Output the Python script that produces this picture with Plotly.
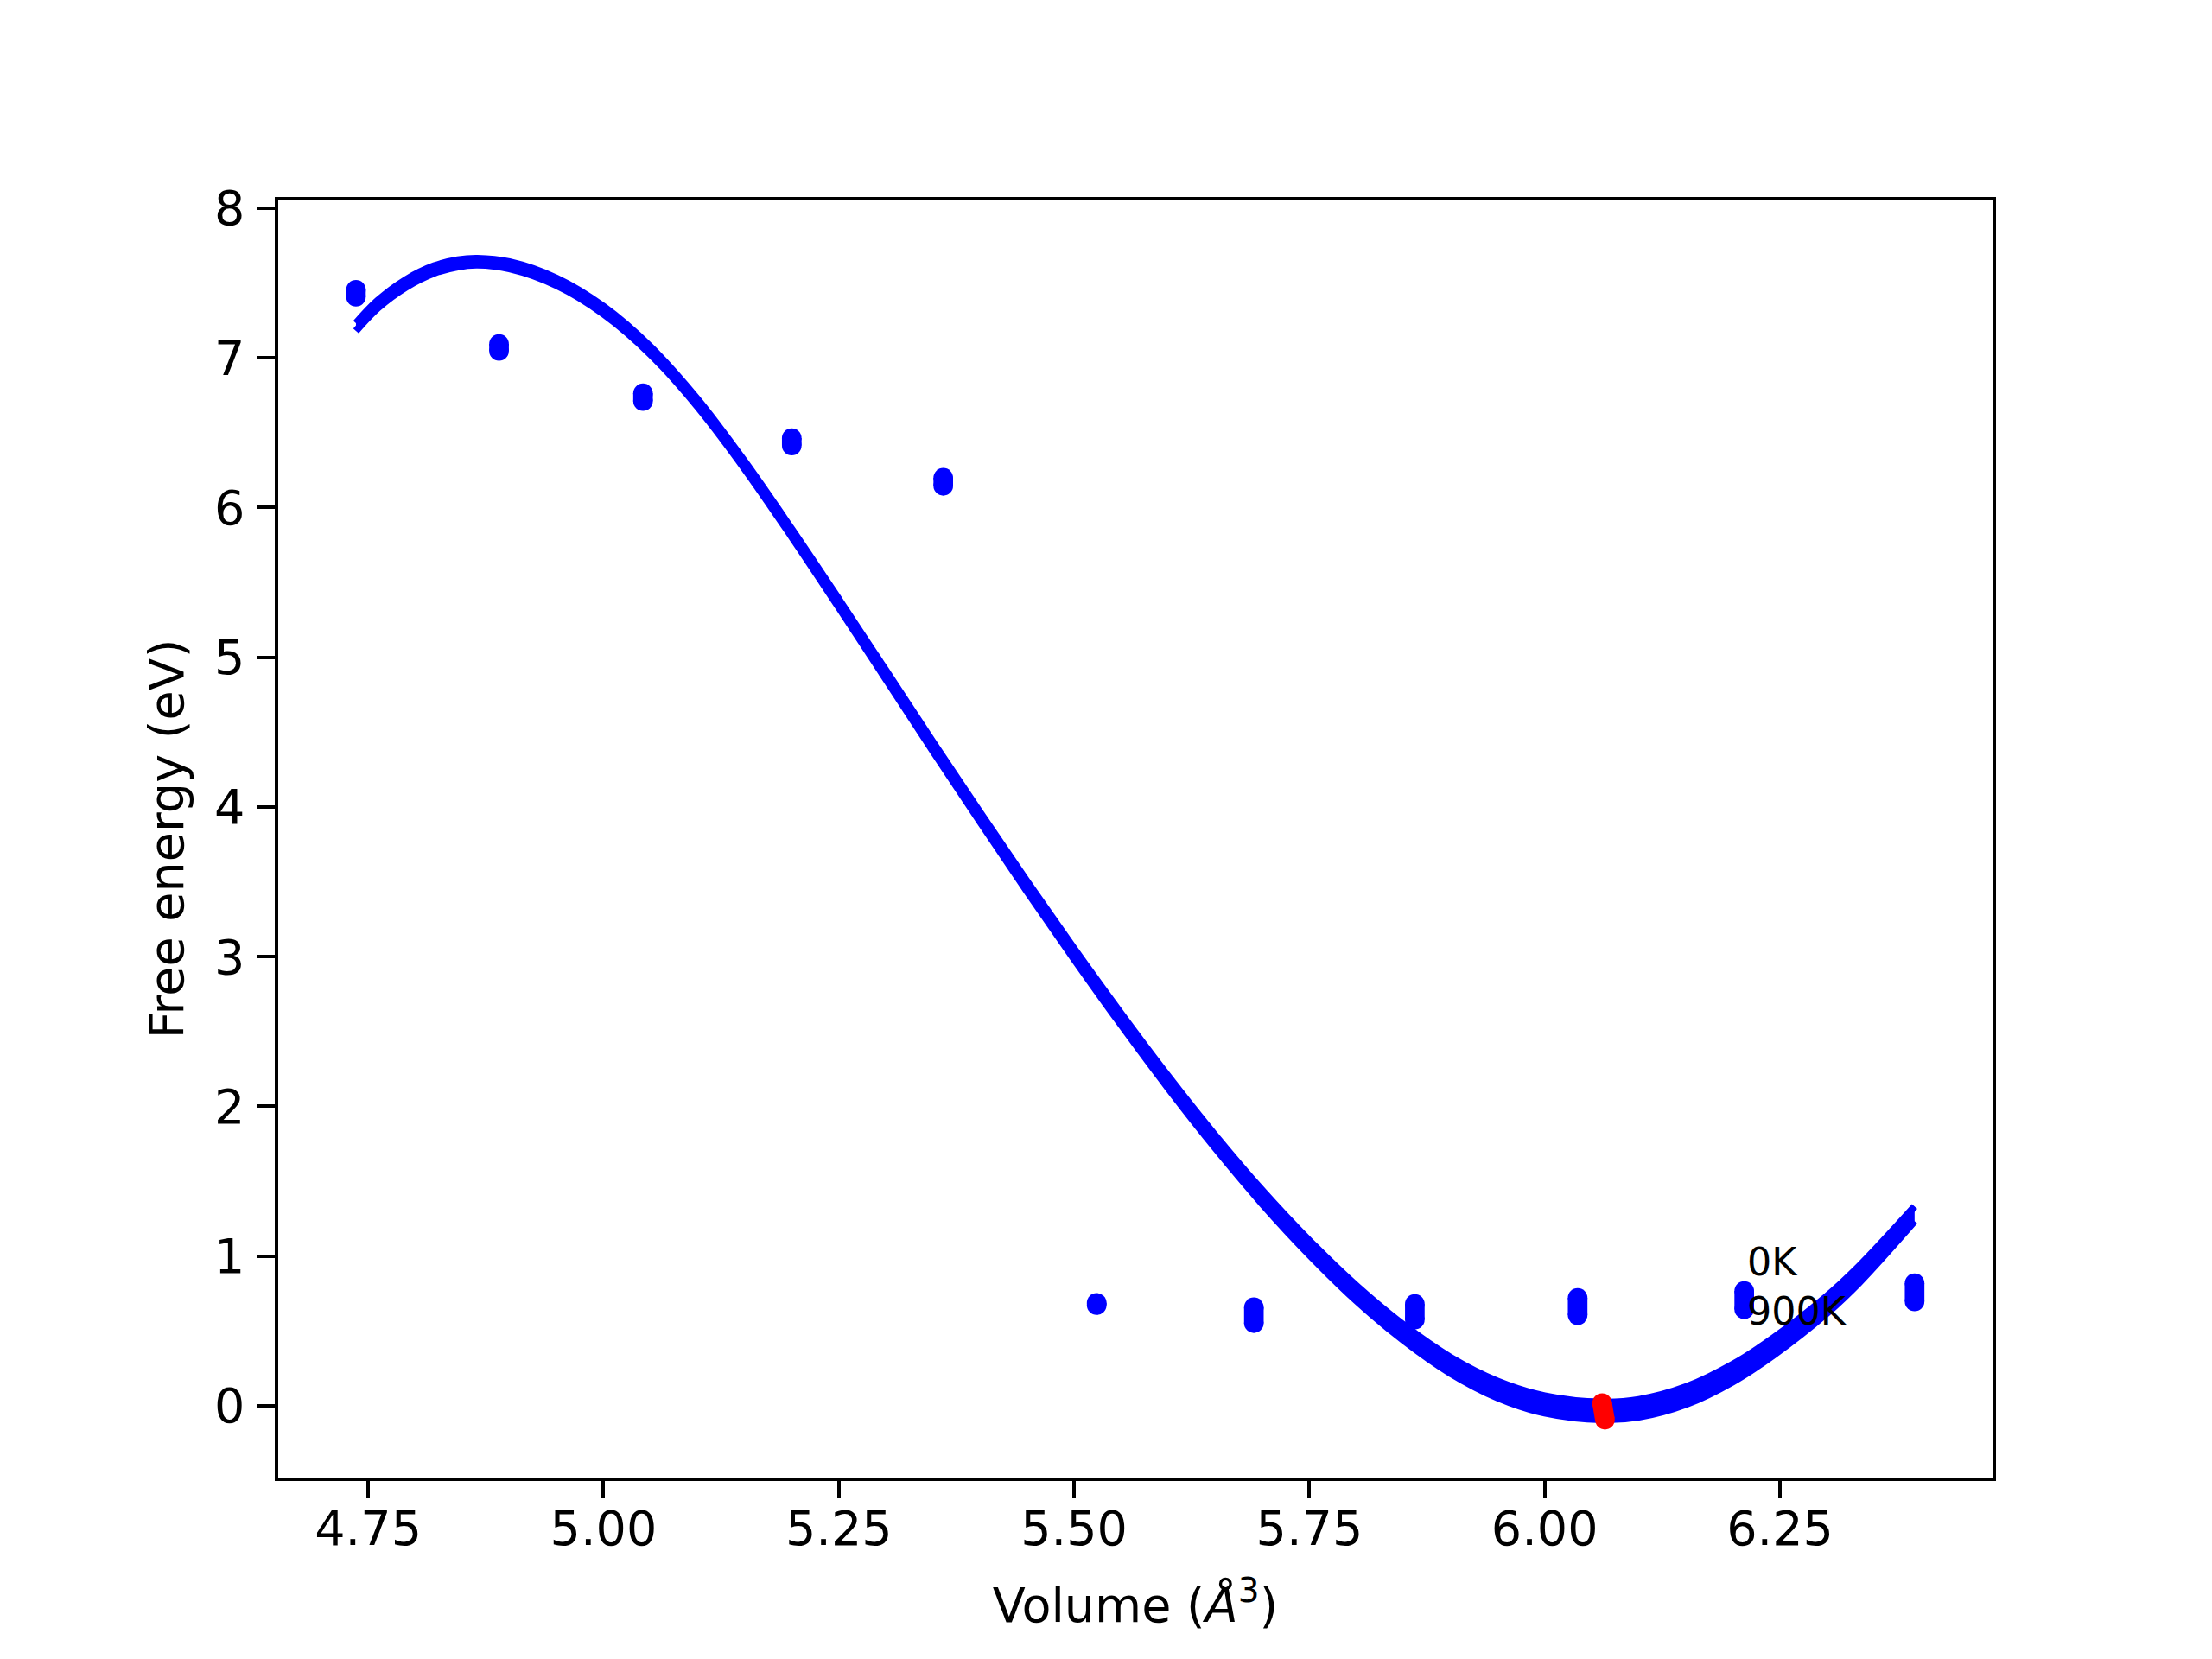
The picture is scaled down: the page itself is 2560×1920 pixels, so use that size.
import plotly.graph_objects as go

# ---- data ----
volumes = [4.737, 4.889, 5.042, 5.200, 5.361, 5.524, 5.691, 5.862, 6.035, 6.212, 6.393]
energy_0K = [7.455, 7.093, 6.763, 6.464, 6.199, 0.688, 0.658, 0.680, 0.721, 0.767, 0.819]
energy_900K = [7.408, 7.046, 6.711, 6.414, 6.145, 0.672, 0.552, 0.576, 0.605, 0.645, 0.697]

fit_volume = [4.737, 4.760, 4.790, 4.820, 4.845, 4.866, 4.900, 4.950, 5.000, 5.050,
              5.100, 5.150, 5.200, 5.250, 5.300, 5.350, 5.400, 5.450, 5.500, 5.550,
              5.600, 5.650, 5.700, 5.750, 5.800, 5.850, 5.900, 5.950, 6.000, 6.061,
              6.100, 6.151, 6.200, 6.243, 6.300, 6.334, 6.393]
fit_0K = [7.232, 7.382, 7.522, 7.614, 7.654, 7.664, 7.641, 7.532, 7.343, 7.073,
          6.723, 6.308, 5.856, 5.388, 4.912, 4.433, 3.964, 3.503, 3.054, 2.619,
          2.201, 1.806, 1.438, 1.103, 0.801, 0.540, 0.323, 0.164, 0.066, 0.024,
          0.041, 0.128, 0.277, 0.453, 0.733, 0.932, 1.331]
fit_900K = [7.180, 7.332, 7.472, 7.566, 7.608, 7.620, 7.595, 7.484, 7.293, 7.023,
            6.673, 6.258, 5.804, 5.333, 4.854, 4.373, 3.901, 3.436, 2.983, 2.544,
            2.121, 1.721, 1.348, 1.008, 0.701, 0.437, 0.217, 0.054, -0.048, -0.092,
            -0.075, 0.012, 0.161, 0.338, 0.620, 0.822, 1.233]

min_volume = [6.061, 6.064]
min_energy = [0.018, -0.093]

labels = ["0K", "900K"]
label_volume = 6.213
label_energy = [0.961, 0.632]

x_ticks = [4.75, 5.00, 5.25, 5.50, 5.75, 6.00, 6.25]
y_ticks = [0, 1, 2, 3, 4, 5, 6, 7, 8]

BLUE = "#0000ff"
RED = "#ff0000"
FONT = "DejaVu Sans"
FS = 55.6
LW = 8.3
MS = 22.7

fig = go.Figure()

# fitted free-energy curves (0K..900K band)
fig.add_trace(go.Scatter(x=fit_volume, y=fit_900K, mode="lines",
                         line=dict(color=BLUE, width=LW, shape="spline", smoothing=1.0),
                         showlegend=False, hoverinfo="skip"))
fig.add_trace(go.Scatter(x=fit_volume, y=fit_0K, mode="lines", fill="tonexty",
                         fillcolor=BLUE,
                         line=dict(color=BLUE, width=LW, shape="spline", smoothing=1.0),
                         showlegend=False, hoverinfo="skip"))

# data points: each volume spans from the 0K value to the 900K value
px, py = [], []
for v, a, b in zip(volumes, energy_0K, energy_900K):
    px += [v, v, None]
    py += [a, b, None]
fig.add_trace(go.Scatter(x=px, y=py, mode="lines+markers",
                         line=dict(color=BLUE, width=MS),
                         marker=dict(color=BLUE, size=MS, line=dict(width=0)),
                         connectgaps=False, showlegend=False))

# minima
fig.add_trace(go.Scatter(x=min_volume, y=min_energy, mode="lines+markers",
                         line=dict(color=RED, width=MS),
                         marker=dict(color=RED, size=MS, line=dict(width=0)),
                         showlegend=False))

for t, e in zip(labels, label_energy):
    fig.add_annotation(x=label_volume, y=e, text=t, showarrow=False,
                       xanchor="left", yanchor="middle",
                       font=dict(family=FONT, size=44.4, color="black"))

axis_common = dict(showline=True, mirror=True, linecolor="black", linewidth=4.4,
                   ticks="outside", ticklen=19.4, tickwidth=4.4, tickcolor="black",
                   showgrid=False, zeroline=False,
                   tickfont=dict(family=FONT, size=FS, color="black"))

fig.update_xaxes(range=[4.6544, 6.4758], tickvals=x_ticks,
                 ticktext=[f"{v:.2f}" for v in x_ticks],
                 title=dict(text="Volume (<i>Å</i><sup>3</sup>)",
                            font=dict(family=FONT, size=FS, color="black"), standoff=39),
                 ticklabelstandoff=-12, **axis_common)
fig.update_yaxes(range=[-0.4795, 8.0513], tickvals=y_ticks,
                 ticktext=[str(v) for v in y_ticks],
                 title=dict(text="Free energy (eV)",
                            font=dict(family=FONT, size=FS, color="black"), standoff=18),
                 ticklabelstandoff=4, **axis_common)

# page body adds an 8px offset; shift margins to keep the plot area in place
fig.update_layout(width=2560, height=1920, autosize=False,
                  margin=dict(l=314, r=262, t=224, b=217.6),
                  plot_bgcolor="white", paper_bgcolor="white",
                  font=dict(family=FONT, color="black"))

fig.write_html("out.html")
